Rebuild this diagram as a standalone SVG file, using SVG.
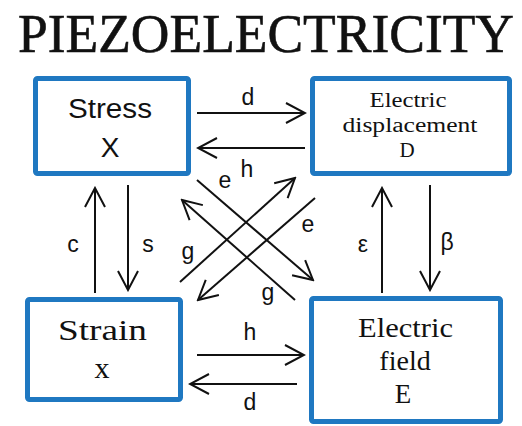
<svg xmlns="http://www.w3.org/2000/svg" width="522" height="426" viewBox="0 0 522 426">
<style>
.box{fill:#fff;stroke:#1f78c1;stroke-width:5}
.ser{font-family:"Liberation Serif",serif;fill:#111;text-anchor:middle}
.san{font-family:"Liberation Sans",sans-serif;fill:#111;text-anchor:middle}
.lbl{font-family:"Liberation Sans",sans-serif;font-size:23px;fill:#111;text-anchor:middle}
.ar{stroke:#111;stroke-width:2;fill:none;marker-end:url(#ah)}
</style>
<defs>
<marker id="ah" viewBox="-22 -12 24 24" refX="0" refY="0" markerWidth="24" markerHeight="24" markerUnits="userSpaceOnUse" orient="auto">
<path d="M-19,-10 L0,0 L-19,10" fill="none" stroke="#111" stroke-width="2"/>
</marker>
</defs>
<rect width="522" height="426" fill="#fff"/>
<text class="ser" x="266" y="52" font-size="54" stroke="#111" stroke-width="0.6" textLength="496" lengthAdjust="spacingAndGlyphs">PIEZOELECTRICITY</text>
<g id="stress">
<rect class="box" x="35.5" y="78.5" width="153" height="95" rx="2"/>
<text class="san" x="110" y="118" font-size="27" textLength="84" lengthAdjust="spacingAndGlyphs">Stress</text>
<text class="san" x="110" y="157" font-size="28">X</text>
</g>
<g id="displacement">
<rect class="box" x="312.5" y="78.5" width="197" height="95" rx="2"/>
<text class="ser" x="408" y="107" font-size="20" textLength="77" lengthAdjust="spacingAndGlyphs">Electric</text>
<text class="ser" x="410" y="132" font-size="20" textLength="135" lengthAdjust="spacingAndGlyphs">displacement</text>
<text class="ser" x="407" y="157" font-size="21">D</text>
</g>
<g id="strain">
<rect class="box" x="27.5" y="299.5" width="153" height="100" rx="2"/>
<text class="ser" x="102.5" y="340" font-size="30" textLength="89" lengthAdjust="spacingAndGlyphs">Strain</text>
<text class="ser" x="102" y="378" font-size="30">x</text>
</g>
<g id="field">
<rect class="box" x="311.5" y="298.5" width="189" height="123" rx="2"/>
<text class="ser" x="405.5" y="337" font-size="28" textLength="95" lengthAdjust="spacingAndGlyphs">Electric</text>
<text class="ser" x="405" y="370" font-size="28">field</text>
<text class="ser" x="403" y="403" font-size="27">E</text>
</g>
<g id="connectors">
<line class="ar" x1="197" y1="113" x2="305" y2="113"/>
<line class="ar" x1="305" y1="148" x2="198" y2="148"/>
<line class="ar" x1="95" y1="293" x2="95" y2="188"/>
<line class="ar" x1="128" y1="185" x2="128" y2="290"/>
<line class="ar" x1="382" y1="293" x2="382" y2="188"/>
<line class="ar" x1="430" y1="185" x2="430" y2="290"/>
<line class="ar" x1="197" y1="355" x2="304" y2="355"/>
<line class="ar" x1="297" y1="384" x2="190" y2="384"/>
<line class="ar" x1="197" y1="180" x2="313" y2="280"/>
<line class="ar" x1="180" y1="282" x2="295" y2="178"/>
<line class="ar" x1="295" y1="300" x2="182" y2="200"/>
<line class="ar" x1="315" y1="198" x2="198" y2="300"/>
<text class="lbl" x="248" y="105">d</text>
<text class="lbl" x="247" y="177">h</text>
<text class="lbl" x="225" y="188">e</text>
<text class="lbl" x="308" y="232">e</text>
<text class="lbl" x="188" y="259">g</text>
<text class="lbl" x="268" y="300">g</text>
<text class="lbl" x="73" y="252">c</text>
<text class="lbl" x="148" y="252">s</text>
<text class="lbl" x="363" y="252">ε</text>
<text class="lbl" x="447" y="250">β</text>
<text class="lbl" x="250" y="340">h</text>
<text class="lbl" x="250" y="410">d</text>
</g>
</svg>
